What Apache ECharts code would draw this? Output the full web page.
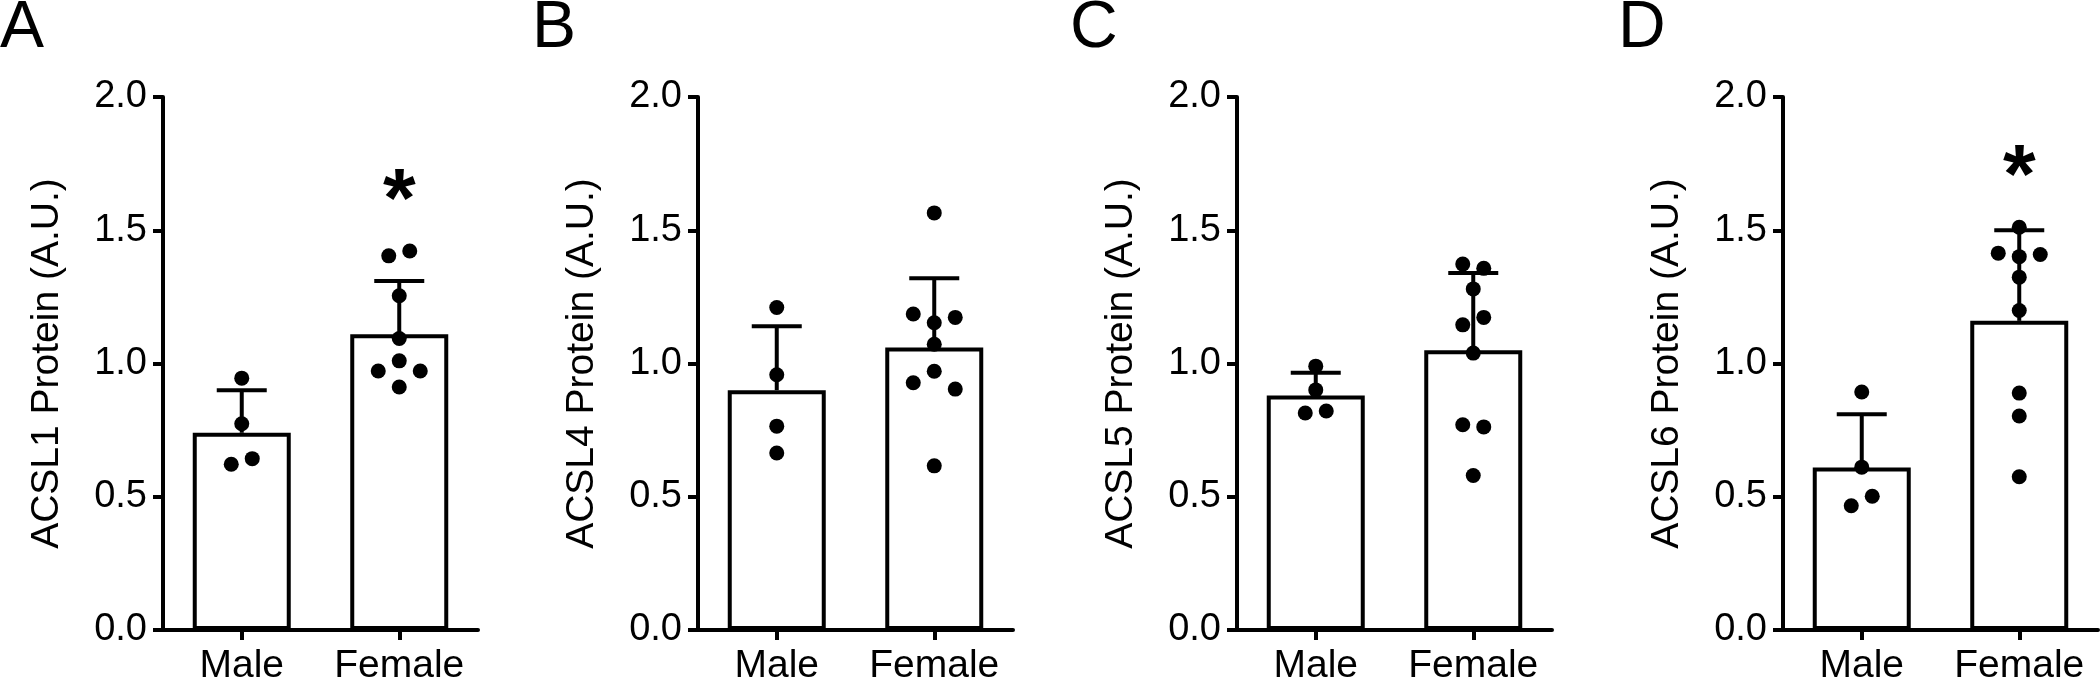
<!DOCTYPE html>
<html>
<head>
<meta charset="utf-8">
<script src="https://cdn.jsdelivr.net/npm/echarts@6/dist/echarts.min.js"></script>
<style>
  html, body { margin: 0; padding: 0; background: #fff; }
  #chart { width: 2100px; height: 686px; }
</style>
</head>
<body>
<div id="chart"></div>
<script>
// ---------------- data ----------------
const categories = ['Male', 'Female'];
const panelLetters = ['A', 'B', 'C', 'D'];
const yAxisTitles = ['ACSL1 Protein (A.U.)', 'ACSL4 Protein (A.U.)', 'ACSL5 Protein (A.U.)', 'ACSL6 Protein (A.U.)'];
const yTickValues = [0.0, 0.5, 1.0, 1.5, 2.0];

// Panel A – ACSL1
const meanA = [0.74, 1.11];
const sdA = [0.16, 0.20];
const maleA = [0.945, 0.774, 0.622, 0.643];
const femaleA = [1.404, 1.422, 1.254, 1.094, 1.010, 0.972, 0.972, 0.912];
const sigA = ['', '*'];

// Panel B – ACSL4
const meanB = [0.90, 1.06];
const sdB = [0.24, 0.26];
const maleB = [1.210, 0.958, 0.765, 0.664];
const femaleB = [1.565, 1.153, 1.186, 1.173, 1.072, 0.971, 0.928, 0.904, 0.616];
const sigB = ['', ''];

// Panel C – ACSL5
const meanC = [0.88, 1.05];
const sdC = [0.085, 0.29];
const maleC = [0.990, 0.901, 0.814, 0.822];
const femaleC = [1.373, 1.357, 1.280, 1.145, 1.173, 1.039, 0.770, 0.762, 0.580];
const sigC = ['', ''];

// Panel D – ACSL6
const meanD = [0.61, 1.16];
const sdD = [0.20, 0.34];
const maleD = [0.893, 0.611, 0.466, 0.502];
const femaleD = [1.511, 1.401, 1.414, 1.409, 1.324, 1.199, 0.889, 0.803, 0.575];
const sigD = ['', '*'];

// ---------------- layout / style ----------------
const FONT = 'Arial, "Liberation Sans", Helvetica, sans-serif';
const gridLefts = [163, 698, 1237, 1783];
const letterLefts = [0, 532, 1070, 1618];
const GRID_TOP = 97, GRID_W = 315, GRID_H = 537;
const LW = 4;
const DOT = 15;
const SWARM_SPACING = 21;
const SWARM_THRESH = 0.05;   // value units (about one dot diameter)
const SIG_GAP = 0.25;        // value units above the highest point

const panels = [
  { mean: meanA, sd: sdA, pts: [maleA, femaleA], sig: sigA },
  { mean: meanB, sd: sdB, pts: [maleB, femaleB], sig: sigB },
  { mean: meanC, sd: sdC, pts: [maleC, femaleC], sig: sigC },
  { mean: meanD, sd: sdD, pts: [maleD, femaleD], sig: sigD }
];

// simple beeswarm: points close in value share a row and are spread symmetrically
function swarmOffsets(values) {
  const idx = values.map((v, i) => i).sort((a, b) => values[b] - values[a] || a - b);
  const rows = [];
  let cur = [idx[0]];
  for (let k = 1; k < idx.length; k++) {
    if (values[idx[k - 1]] - values[idx[k]] < SWARM_THRESH) cur.push(idx[k]);
    else { rows.push(cur); cur = [idx[k]]; }
  }
  rows.push(cur);
  const off = new Array(values.length).fill(0);
  rows.forEach(r => {
    r.sort((a, b) => a - b);
    const n = r.length;
    const slots = [];
    if (n % 2 === 1) {
      slots.push(0);
      for (let j = 1; slots.length < n; j++) { slots.push(-j); if (slots.length < n) slots.push(j); }
    } else {
      for (let j = 0; slots.length < n; j++) { slots.push(-(j + 0.5)); slots.push(j + 0.5); }
    }
    r.forEach((i, k) => { off[i] = slots[k] * SWARM_SPACING; });
  });
  return off;
}

const grids = [], xAxes = [], yAxes = [], series = [], graphics = [];

panels.forEach((p, i) => {
  grids.push({ left: gridLefts[i], top: GRID_TOP, width: GRID_W, height: GRID_H });
  xAxes.push({
    type: 'category', gridIndex: i, data: categories,
    axisLine: { show: true, lineStyle: { color: '#000', width: LW } },
    axisTick: { show: true, alignWithLabel: true, length: 10, lineStyle: { color: '#000', width: LW } },
    axisLabel: { color: '#000', fontSize: 39, fontFamily: FONT, margin: 17, interval: 0, hideOverlap: false },
    splitLine: { show: false }
  });
  yAxes.push({
    type: 'value', gridIndex: i,
    min: yTickValues[0], max: yTickValues[yTickValues.length - 1],
    interval: yTickValues[1] - yTickValues[0],
    name: yAxisTitles[i], nameLocation: 'middle', nameGap: 96,
    nameTextStyle: { color: '#000', fontSize: 39, fontFamily: FONT },
    axisLine: { show: true, lineStyle: { color: '#000', width: LW } },
    axisTick: { show: true, length: 10, lineStyle: { color: '#000', width: LW } },
    axisLabel: { color: '#000', fontSize: 38, fontFamily: FONT, margin: 16, formatter: v => v.toFixed(1) },
    splitLine: { show: false }
  });

  // bars (means)
  series.push({
    type: 'bar', xAxisIndex: i, yAxisIndex: i, barWidth: 98, z: 2,
    data: p.mean,
    itemStyle: { color: '#fff', borderColor: '#000', borderWidth: LW },
    silent: true
  });

  // error bars (mean + SD)
  series.push({
    type: 'custom', xAxisIndex: i, yAxisIndex: i, z: 3,
    data: p.mean.map((m, c) => [c, m, p.sd[c]]),
    encode: { x: 0, y: 1 },
    renderItem: (params, api) => {
      const c = api.value(0), m = api.value(1), s = api.value(2);
      const base = api.coord([c, m]);
      const top = api.coord([c, m + s]);
      const hw = 25;
      return {
        type: 'group',
        children: [
          { type: 'line', shape: { x1: base[0], y1: base[1], x2: top[0], y2: top[1] },
            style: { stroke: '#000', lineWidth: LW } },
          { type: 'line', shape: { x1: top[0] - hw, y1: top[1], x2: top[0] + hw, y2: top[1] },
            style: { stroke: '#000', lineWidth: LW } }
        ]
      };
    },
    silent: true
  });

  // individual points
  const dots = [];
  p.pts.forEach((vals, c) => {
    const off = swarmOffsets(vals);
    vals.forEach((v, k) => dots.push({ value: [c, v], symbolOffset: [off[k], 0] }));
  });
  series.push({
    type: 'scatter', xAxisIndex: i, yAxisIndex: i, z: 4,
    symbol: 'circle', symbolSize: DOT,
    itemStyle: { color: '#000', opacity: 1 },
    data: dots, silent: true
  });

  // significance marks
  const sigData = [];
  p.sig.forEach((s, c) => {
    if (s) sigData.push({ value: [c, Math.max(...p.pts[c], p.mean[c] + p.sd[c]) + SIG_GAP], mark: s });
  });
  if (sigData.length) {
    series.push({
      type: 'scatter', xAxisIndex: i, yAxisIndex: i, z: 5,
      symbol: 'circle', symbolSize: 1,
      itemStyle: { color: 'rgba(0,0,0,0)', opacity: 1 },
      label: {
        show: true, position: 'inside', offset: [0, 19], opacity: 1,
        formatter: d => d.data.mark,
        color: '#000', fontSize: 84, fontWeight: 'bold', fontFamily: FONT
      },
      data: sigData, silent: true
    });
  }

  graphics.push({
    type: 'text', left: letterLefts[i], top: -4,
    style: { text: panelLetters[i], fill: '#000', font: '66px ' + FONT }
  });
});

const chart = echarts.init(document.getElementById('chart'), null, { renderer: 'canvas' });
chart.setOption({
  animation: false,
  backgroundColor: '#fff',
  grid: grids,
  xAxis: xAxes,
  yAxis: yAxes,
  series: series,
  graphic: graphics
});
</script>
</body>
</html>
